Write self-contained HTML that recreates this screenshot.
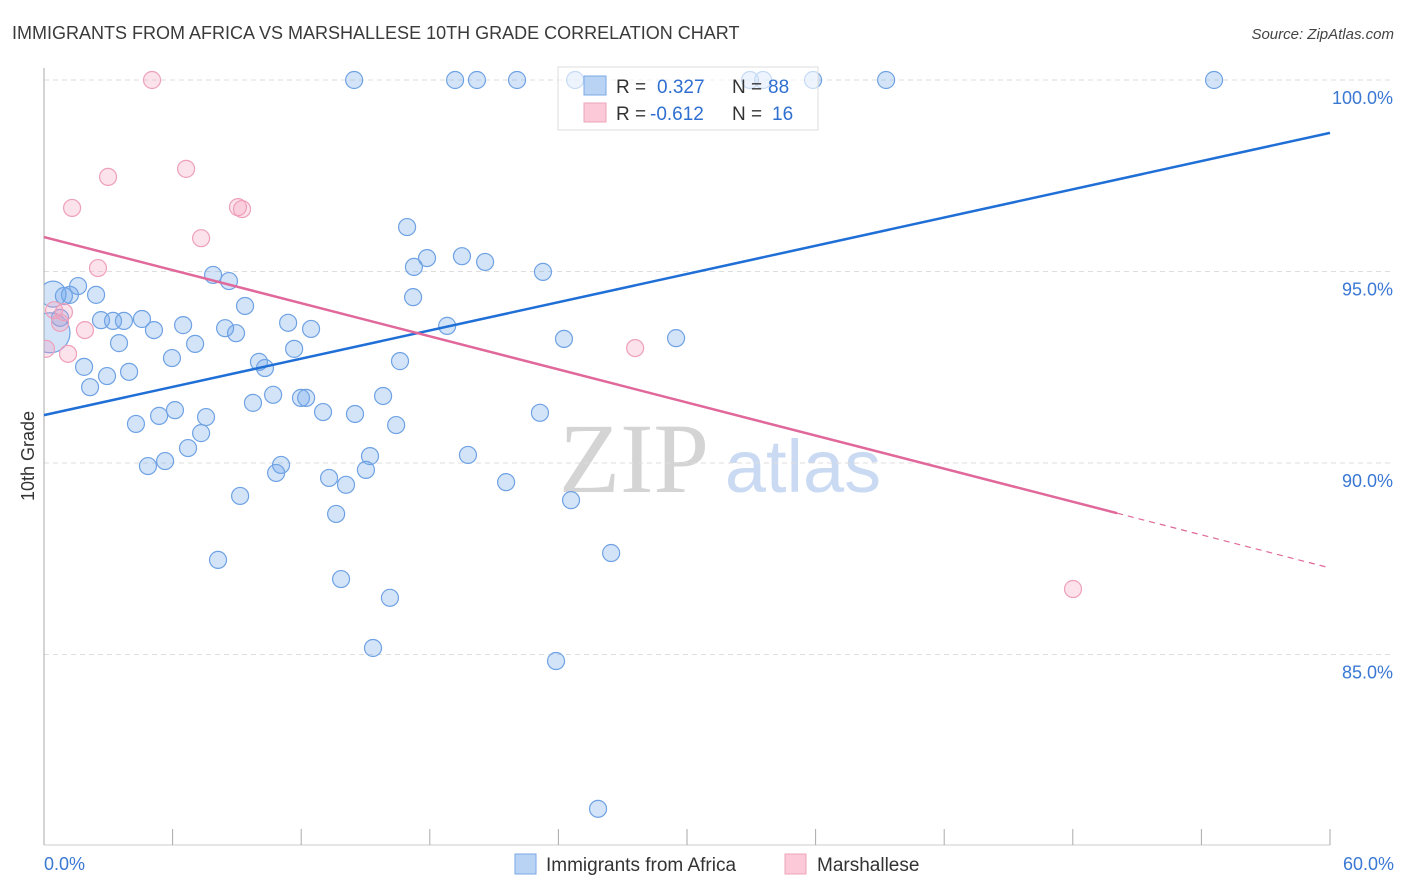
<!DOCTYPE html>
<html><head><meta charset="utf-8">
<style>
body{margin:0;background:#fff;font-family:"Liberation Sans",sans-serif;}
svg{display:block}
</style></head>
<body>
<svg id="chart" width="1406" height="892" viewBox="0 0 1406 892" xmlns="http://www.w3.org/2000/svg">
<defs><clipPath id="plotclip"><rect x="44" y="60" width="1360" height="785"/></clipPath></defs>
<text x="12" y="39" font-size="18" fill="#3a3a3a">IMMIGRANTS FROM AFRICA VS MARSHALLESE 10TH GRADE CORRELATION CHART</text>
<text x="1394" y="39" font-size="15" fill="#444" text-anchor="end" font-style="italic">Source: ZipAtlas.com</text>
<g>
<text x="634" y="492" font-size="100" fill="#d4d4d4" font-family="Liberation Serif,serif" text-anchor="middle">ZIP</text>
<text x="803" y="492" font-size="74" fill="#c9daf2" text-anchor="middle">atlas</text>
</g>
<g id="grid"></g>
<g id="axes"></g>
<g id="marks" clip-path="url(#plotclip)"></g>
<g id="lines"></g>
<text transform="translate(34,456) rotate(-90)" font-size="18" fill="#333" text-anchor="middle">10th Grade</text>
<g>
<rect x="558" y="67" width="260" height="63" fill="#fff" fill-opacity="0.6" stroke="#ddd"/>
<rect x="584" y="76" width="22" height="19" fill="#b9d3f5" stroke="#7aa9e6"/>
<text x="616" y="93" font-size="19" fill="#333">R =</text>
<text x="657" y="93" font-size="19" fill="#2f6fd0">0.327</text>
<text x="732" y="93" font-size="19" fill="#333">N =</text>
<text x="768" y="93" font-size="19" fill="#2f6fd0">88</text>
<rect x="584" y="103" width="22" height="19" fill="#fbc9d7" stroke="#eea5bb"/>
<text x="616" y="120" font-size="19" fill="#333">R =</text>
<text x="650" y="120" font-size="19" fill="#2f6fd0">-0.612</text>
<text x="732" y="120" font-size="19" fill="#333">N =</text>
<text x="772" y="120" font-size="19" fill="#2f6fd0">16</text>
</g>
<g>
<rect x="515" y="854" width="21" height="20" fill="#b9d3f5" stroke="#7aa9e6"/>
<text x="546" y="871" font-size="19" fill="#333">Immigrants from Africa</text>
<rect x="785" y="854" width="21" height="20" fill="#fbc9d7" stroke="#eea5bb"/>
<text x="817" y="871" font-size="19" fill="#333">Marshallese</text>
</g>
</svg>
<script>
const yTicks=[100,95,90,85];
const yTickLabels=["100.0%","95.0%","90.0%","85.0%"];
const xTickVals=[0,6,12,18,24,30,36,42,48,54,60];
const blueX=[14.47,19.18,20.2,22.07,24.78,32.94,33.55,35.88,39.29,54.59,16.94,17.87,19.5,20.58,17.26,23.28,7.89,8.63,1.59,2.43,1.21,0.93,9.38,17.22,2.66,3.22,3.73,4.57,6.49,5.13,8.45,8.96,11.39,12.46,18.81,24.26,29.49,0.75,3.5,7.05,5.97,11.67,10.03,10.31,16.61,1.87,2.94,3.97,2.15,9.75,10.69,11.99,12.23,15.82,6.11,5.37,7.56,13.02,14.51,23.14,4.29,7.33,16.43,6.72,15.21,19.78,5.65,4.85,11.06,10.83,13.3,14.09,15.02,21.56,9.15,24.59,13.63,8.12,26.46,13.86,16.14,15.35,23.89,25.85];
const blueY=[100,100,100,100,100,100,100,100,100,100,96.16,95.35,95.4,95.25,95.12,94.99,94.91,94.75,94.62,94.39,94.39,94.36,94.1,94.33,93.73,93.71,93.71,93.76,93.6,93.47,93.52,93.39,93.66,93.5,93.58,93.24,93.26,93.79,93.13,93.11,92.74,92.98,92.64,92.48,92.66,92.51,92.27,92.38,91.98,91.57,91.78,91.7,91.7,91.75,91.38,91.23,91.2,91.33,91.28,91.31,91.02,90.78,90.99,90.39,90.18,90.21,90.05,89.92,89.95,89.74,89.61,89.43,89.82,89.5,89.14,89.03,88.67,87.47,87.65,86.97,86.48,85.17,84.83,80.97];
const blueBigX=[0.42,0.28];
const blueBigY=[94.41,93.4];
const pinkX=[5.04,2.99,1.31,6.63,9.05,9.24,7.33,2.52,0.47,0.93,1.91,0.09,1.12,0.75,27.58,48.01];
const pinkY=[100,97.47,96.66,97.68,96.68,96.63,95.87,95.09,93.99,93.94,93.47,92.98,92.85,93.66,93.0,86.71];
const blueTrend=[91.25,98.62];
const pinkTrend=[95.9,87.26];
const pinkSolidEnd=50.07;

const NS="http://www.w3.org/2000/svg";
const X=v=>44+v*(1286/60);
const Y=v=>80+(100-v)*38.3;
function mk(tag,attrs,parent){const e=document.createElementNS(NS,tag);for(const k in attrs)e.setAttribute(k,attrs[k]);parent.appendChild(e);return e;}
const grid=document.getElementById('grid'),axes=document.getElementById('axes'),marks=document.getElementById('marks'),lines=document.getElementById('lines');
yTicks.forEach((t,i)=>{
 const l=mk('line',{x1:44,x2:1394,y1:Y(t),y2:Y(t),stroke:'#ddd','stroke-dasharray':'5,4'},grid);
 
 
 const tx=mk('text',{x:1393,y:Y(t)+24,'font-size':18,fill:'#3a78d4','text-anchor':'end'},axes);
 tx.textContent=yTickLabels[i];
 
 
});
const ya=mk('line',{x1:44,x2:44,y1:68,y2:845,stroke:'#aaa'},axes);


const xa=mk('line',{x1:44,x2:1330,y1:845,y2:845,stroke:'#ccc'},axes);


xTickVals.forEach(t=>{
 const l=mk('line',{x1:X(t),x2:X(t),y1:829,y2:845,stroke:'#aaa'},axes);
 
 
});
[[0,'0.0%','start',44],[60,'60.0%','end',1394]].forEach(a=>{
 const tx=mk('text',{x:a[3],y:870,'font-size':18,fill:'#3a78d4','text-anchor':a[2]},axes);
 tx.textContent=a[1];
 
 
});
blueBigX.forEach((v,i)=>{
 const c=mk('circle',{cx:X(v),cy:Y(blueBigY[i]),r:i?20:13,fill:'rgba(110,165,235,0.3)',stroke:'#6fa2e3','stroke-width':1.2},marks);
 
 
});
blueX.forEach((v,i)=>{
 const c=mk('circle',{cx:X(v),cy:Y(blueY[i]),r:8.5,fill:'rgba(110,165,235,0.3)',stroke:'#6fa2e3','stroke-width':1.2},marks);
 
 
});
pinkX.forEach((v,i)=>{
 const c=mk('circle',{cx:X(v),cy:Y(pinkY[i]),r:8.5,fill:'rgba(245,160,190,0.3)',stroke:'#eea0ba','stroke-width':1.2},marks);
 
 
});
const bl=mk('line',{x1:X(0),y1:Y(blueTrend[0]),x2:X(60),y2:Y(blueTrend[1]),stroke:'#1f6fd6','stroke-width':2.5},lines);


const pv=x=>pinkTrend[0]+(pinkTrend[1]-pinkTrend[0])*x/60;
const pl=mk('line',{x1:X(0),y1:Y(pv(0)),x2:X(pinkSolidEnd),y2:Y(pv(pinkSolidEnd)),stroke:'#e0689a','stroke-width':2.5},lines);


const pd=mk('line',{x1:X(pinkSolidEnd),y1:Y(pv(pinkSolidEnd)),x2:X(60),y2:Y(pv(60)),stroke:'#e0689a','stroke-width':1.2,'stroke-dasharray':'6,5'},lines);


</script>
</body></html>
